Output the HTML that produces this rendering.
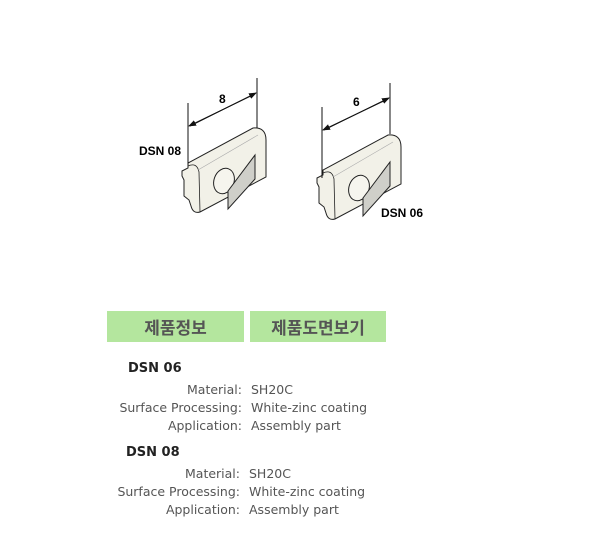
<!DOCTYPE html>
<html><head><style>
body{margin:0;width:600px;height:550px;background:#fff;position:relative;font-family:"Liberation Sans","Noto Sans CJK KR",sans-serif;overflow:hidden}
.b{position:absolute;top:311px;height:31px;background:#b4e69e;font-size:17px;font-weight:bold;color:#555;text-align:center;line-height:31px;font-family:"Noto Sans CJK KR","NanumGothic",sans-serif}
.t{position:absolute;font-size:12.5px;color:#555;font-family:"DejaVu Sans","Liberation Sans",sans-serif;white-space:nowrap}
.h{position:absolute;font-size:13px;font-weight:bold;color:#222;font-family:"DejaVu Sans",sans-serif}
.l{text-align:right}
</style></head><body>
<svg width="600" height="300" style="position:absolute;left:0;top:0" font-family="Liberation Sans,sans-serif">
<defs><marker id="a" markerWidth="8" markerHeight="6" refX="7" refY="3" orient="auto"><path d="M0,0L8,3L0,6z" fill="#111"/></marker></defs>
<g id="p" stroke="#222" stroke-width="1">
<path d="M182,171 L188,168 L188,163 L253,128 Q266,127 266,140 L266,177 L200,212 Q193,214 191,206 L189,200 L184,196 L184,180 L182,176 Z" fill="#f2f1e8"/>
<path d="M188,166 Q197,162 199,172 L200,212" fill="none" stroke-width="0.8"/>
<path d="M198,170 L258,135" fill="none" stroke-width="0.6" stroke="#aaa"/>
<ellipse cx="224" cy="181" rx="10" ry="13" transform="rotate(20 224 181)" fill="#f6f5ee"/>
<path d="M228,191 L255,155 L255,179 L228,209 Z" fill="#cfcfc9"/>
</g>
<use href="#p" transform="translate(135,7)"/>
<g stroke="#111" stroke-width="1" fill="none">
<line x1="188" y1="103" x2="188" y2="165"/><line x1="257" y1="78" x2="257" y2="128"/>
<line x1="190" y1="126" x2="256" y2="93" marker-end="url(#a)"/><line x1="255" y1="94" x2="189" y2="126" marker-end="url(#a)"/>
<line x1="322" y1="107" x2="322" y2="178"/><line x1="390" y1="83" x2="390" y2="134"/>
<line x1="324" y1="130" x2="389" y2="98" marker-end="url(#a)"/><line x1="388" y1="99" x2="323" y2="130" marker-end="url(#a)"/>
</g>
<text x="219" y="103" font-size="12" font-weight="bold">8</text>
<text x="353" y="106" font-size="12" font-weight="bold">6</text>
<text x="139" y="155" font-size="12" font-weight="bold">DSN 08</text>
<text x="381" y="217" font-size="12" font-weight="bold">DSN 06</text>
</svg>
<div class="b" style="left:107px;width:137px">제품정보</div>
<div class="b" style="left:250px;width:136px">제품도면보기</div>
<div class="h" style="left:128px;top:361px">DSN 06</div>
<div class="t l" style="right:358px;top:382px">Material:</div><div class="t" style="left:251px;top:382px">SH20C</div>
<div class="t l" style="right:358px;top:400px">Surface Processing:</div><div class="t" style="left:251px;top:400px">White-zinc coating</div>
<div class="t l" style="right:358px;top:418px">Application:</div><div class="t" style="left:251px;top:418px">Assembly part</div>
<div class="h" style="left:126px;top:445px">DSN 08</div>
<div class="t l" style="right:360px;top:466px">Material:</div><div class="t" style="left:249px;top:466px">SH20C</div>
<div class="t l" style="right:360px;top:484px">Surface Processing:</div><div class="t" style="left:249px;top:484px">White-zinc coating</div>
<div class="t l" style="right:360px;top:502px">Application:</div><div class="t" style="left:249px;top:502px">Assembly part</div>
</body></html>
